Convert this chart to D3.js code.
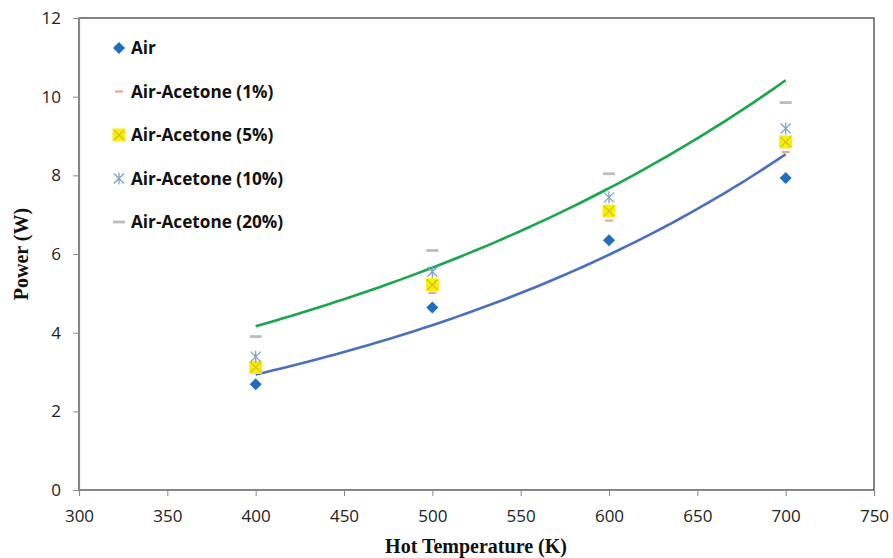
<!DOCTYPE html>
<html><head><meta charset="utf-8">
<script src="https://cdn.jsdelivr.net/npm/d3@7"></script>
<style>body{margin:0;background:#fff}svg{display:block}</style>
</head><body>
<svg id="c" width="893" height="558"></svg>
<script>
const temps = [400, 500, 600, 700];
const air = [2.69, 4.64, 6.35, 7.93];
const acetone1 = [2.98, 5.01, 6.85, 8.59];
const acetone5 = [3.12, 5.22, 7.09, 8.85];
const acetone10 = [3.39, 5.55, 7.44, 9.19];
const acetone20 = [3.90, 6.09, 8.04, 9.85];
const xTicks = [300, 350, 400, 450, 500, 550, 600, 650, 700, 750];
const yTicks = [0, 2, 4, 6, 8, 10, 12];
const seriesNames = ["Air", "Air-Acetone (1%)", "Air-Acetone (5%)", "Air-Acetone (10%)", "Air-Acetone (20%)"];

const svg = d3.select("#c");
const x = d3.scaleLinear().domain([300, 750]).range([79, 874]);
const y = d3.scaleLinear().domain([0, 12]).range([490, 18]);

// frame
svg.append("rect").attr("x", 79).attr("y", 18).attr("width", 795).attr("height", 472)
  .attr("fill", "none").attr("stroke", "#333").attr("stroke-width", 1.2);

const tickFont = "'Open Sans', 'Liberation Sans', sans-serif";
const gx = svg.append("g").attr("transform", "translate(0,490)")
  .call(d3.axisBottom(x).tickValues(xTicks).tickSize(6).tickPadding(14).tickFormat(d3.format("d")));
const gy = svg.append("g").attr("transform", "translate(79,0)")
  .call(d3.axisLeft(y).tickValues(yTicks).tickSize(6).tickPadding(12).tickFormat(d3.format("d")));
[gx, gy].forEach(g => {
  g.select(".domain").attr("stroke", "#888").attr("stroke-width", 1.2);
  g.selectAll(".tick line").attr("stroke", "#888");
  g.selectAll(".tick text").attr("font-family", tickFont).attr("font-size", 17).attr("fill", "#222");
});

// exponential trendlines fitted to Air and 20% data
function expFit(xs, ys) {
  const n = xs.length, ly = ys.map(Math.log);
  const mx = d3.mean(xs), my = d3.mean(ly);
  let sxy = 0, sxx = 0;
  for (let i = 0; i < n; i++) { sxy += (xs[i]-mx)*(ly[i]-my); sxx += (xs[i]-mx)**2; }
  const b = sxy / sxx, a = Math.exp(my - b*mx);
  return t => a * Math.exp(b * t);
}
const line = d3.line().x(d => x(d[0])).y(d => y(d[1])).curve(d3.curveLinear);
function trend(ys, color) {
  const f = expFit(temps, ys);
  const pts = d3.range(400, 700.01, 5).map(t => [t, f(t)]);
  svg.append("path").attr("d", line(pts)).attr("fill", "none").attr("stroke", color).attr("stroke-width", 2.6);
}
trend(air, "#4a6fbf");
trend(acetone20, "#1aa64a");

// marker drawers
function diamond(g, cx, cy) {
  g.append("path").attr("d", `M${cx},${cy-6}L${cx+6},${cy}L${cx},${cy+6}L${cx-6},${cy}Z`).attr("fill", "#1f6dbe");
}
function dash1(g, cx, cy) {
  g.append("line").attr("x1", cx-4).attr("x2", cx+4).attr("y1", cy).attr("y2", cy).attr("stroke", "#e3a98e").attr("stroke-width", 2.2);
}
function xsq(g, cx, cy) {
  g.append("rect").attr("x", cx-6.5).attr("y", cy-6.5).attr("width", 13).attr("height", 13).attr("fill", "#f7ee0c");
  g.append("path").attr("d", `M${cx-5},${cy-5}L${cx+5},${cy+5}M${cx-5},${cy+5}L${cx+5},${cy-5}`).attr("stroke", "#d6c21a").attr("stroke-width", 1.3);
}
function star(g, cx, cy) {
  g.append("path").attr("d", `M${cx-5},${cy-5}L${cx+5},${cy+5}M${cx-5},${cy+5}L${cx+5},${cy-5}M${cx},${cy-6}L${cx},${cy+6}`)
    .attr("stroke", "#7fa3c8").attr("stroke-width", 1.3).attr("fill", "none");
}
function dash20(g, cx, cy) {
  g.append("line").attr("x1", cx-6).attr("x2", cx+6).attr("y1", cy).attr("y2", cy).attr("stroke", "#bdbdbd").attr("stroke-width", 2.8);
}
const drawers = [diamond, dash1, xsq, star, dash20];
const allSeries = [air, acetone1, acetone5, acetone10, acetone20];
const order = [4, 1, 2, 3, 0];
const mg = svg.append("g");
order.forEach(si => {
  allSeries[si].forEach((v, i) => drawers[si](mg, x(temps[i]), y(v)));
});

// legend
const lg = svg.append("g");
seriesNames.forEach((name, i) => {
  const cy = 48 + i * 43.5;
  drawers[i](lg, 119, cy);
  lg.append("text").attr("x", 131).attr("y", cy).attr("dy", "0.35em")
    .attr("font-family", "'Open Sans', Lato, sans-serif").attr("font-weight", "bold")
    .attr("font-size", 17.2).attr("fill", "#111").text(name);
});

// axis titles
svg.append("text").attr("x", 476).attr("y", 553).attr("text-anchor", "middle")
  .attr("font-family", "'Liberation Serif', 'Times New Roman', serif").attr("font-weight", "bold")
  .attr("font-size", 20).attr("fill", "#111").text("Hot Temperature (K)");
svg.append("text").attr("transform", "translate(28,254) rotate(-90)").attr("text-anchor", "middle")
  .attr("font-family", "'Liberation Serif', 'Times New Roman', serif").attr("font-weight", "bold")
  .attr("font-size", 20).attr("fill", "#111").text("Power (W)");
</script>
</body></html>
